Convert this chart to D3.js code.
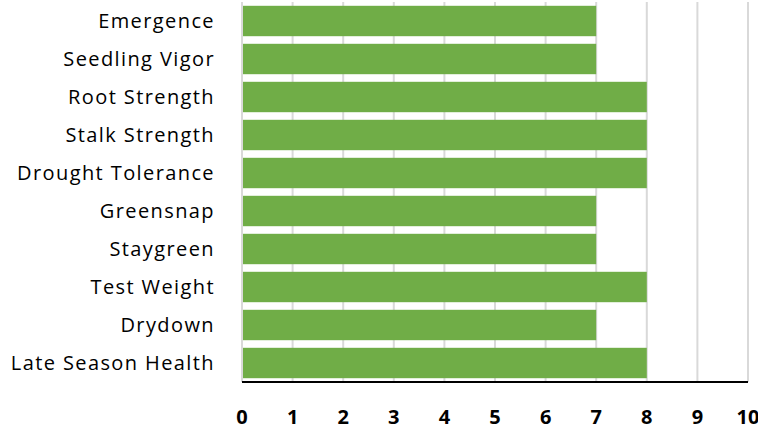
<!DOCTYPE html>
<html>
<head>
<meta charset="utf-8">
<script src="https://cdn.jsdelivr.net/npm/d3@7"></script>
<style>
  body { margin: 0; background: #fff; }
  svg { display: block; }
</style>
</head>
<body>
<div id="chart"></div>
<script>
var traits = ["Emergence", "Seedling Vigor", "Root Strength", "Stalk Strength",
    "Drought Tolerance", "Greensnap", "Staygreen", "Test Weight", "Drydown",
    "Late Season Health"];
var scores = [7, 7, 8, 8, 8, 7, 7, 8, 7, 8];
var ticks = [0, 1, 2, 3, 4, 5, 6, 7, 8, 9, 10];

var margin = {top: 2, right: 10, bottom: 47, left: 242},
    width = 758 - margin.left - margin.right,
    height = 429 - margin.top - margin.bottom;

var svg = d3.select("#chart").append("svg")
    .attr("width", 758)
    .attr("height", 429)
    .append("g")
    .attr("transform", "translate(" + margin.left + "," + margin.top + ")");

var x = d3.scaleLinear().domain([0, 10]).range([0, width]);
var y = d3.scaleBand().domain(traits).range([0, height]).paddingInner(0.2).paddingOuter(0.1);

// gridlines
svg.append("g").selectAll("line")
    .data(ticks)
    .enter().append("line")
    .attr("x1", function(d) { return x(d); })
    .attr("x2", function(d) { return x(d); })
    .attr("y1", 0)
    .attr("y2", height)
    .style("stroke", "#d9d9d9")
    .style("stroke-width", 2);

svg.append("g").selectAll("rect")
    .data(scores)
    .enter().append("rect")
    .attr("x", x(0) + 1)
    .attr("y", function(d, i) { return y(traits[i]); })
    .attr("width", function(d) { return x(d) - x(0) - 1; })
    .attr("height", y.bandwidth())
    .style("fill", "#70AD47");

// baseline
svg.append("line")
    .attr("x1", x(0)).attr("x2", x(10))
    .attr("y1", height).attr("y2", height)
    .style("stroke", "#000").style("stroke-width", 2);

// category labels
svg.append("g").selectAll("text")
    .data(traits)
    .enter().append("text")
    .text(function(d) { return d; })
    .attr("x", -27)
    .attr("y", function(d) { return y(d) + y.bandwidth() / 2; })
    .attr("dy", "0.36em")
    .attr("text-anchor", "end")
    .style("font-family", "'Open Sans', sans-serif")
    .style("font-size", "20px")
    .style("letter-spacing", "1.4px")
    .style("fill", "#000");

// x tick labels
svg.append("g").selectAll("text")
    .data(ticks)
    .enter().append("text")
    .text(function(d) { return d; })
    .attr("x", function(d) { return x(d); })
    .attr("y", height + 42)
    .attr("text-anchor", "middle")
    .style("font-family", "'Open Sans', sans-serif")
    .style("font-weight", "bold")
    .style("font-size", "20px")
    .style("fill", "#000");
</script>
</body>
</html>
